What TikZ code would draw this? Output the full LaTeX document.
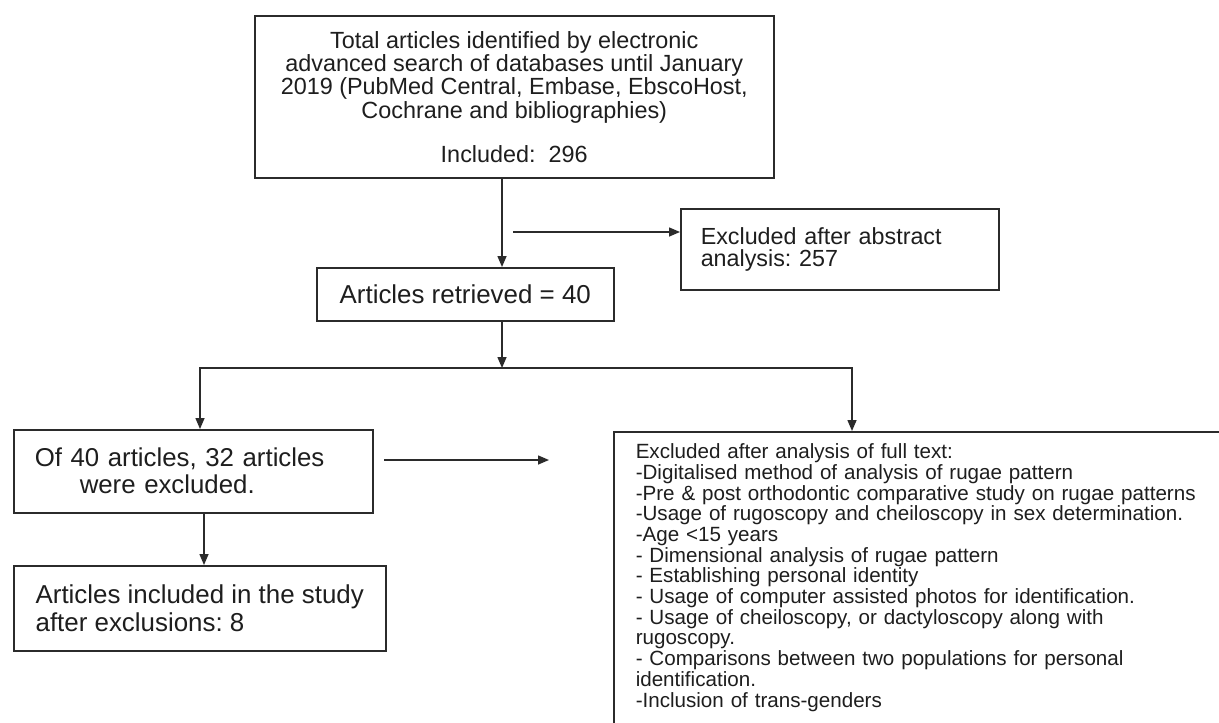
\documentclass[tikz,border=0pt]{standalone}
\usepackage{fontspec}
\setmainfont{Liberation Sans}
\usetikzlibrary{arrows.meta}
\definecolor{lc}{HTML}{2B2B2B}
\definecolor{tc}{HTML}{1E1E1E}
\frenchspacing
\begin{document}
\begin{tikzpicture}[x=1pt,y=-1pt,
  box/.style={draw=lc, line width=1.5pt, text=tc, inner sep=0pt, anchor=north west},
  arr/.style={draw=lc, line width=1.5pt, -{Triangle[length=11pt,width=9pt]}},
  ln/.style={draw=lc, line width=1.5pt}]
\useasboundingbox (0,0) rectangle (1219,723);
\clip (0,0) rectangle (1219,723);
\fill[white] (0,0) rectangle (1219,723);

\node[box, minimum width=519pt, minimum height=162pt, align=center,
      font=\fontsize{23.4}{23.3}\selectfont] (top) at (254,15)
  {Total articles identified by electronic\\
   advanced search of databases until January\\
   2019 (PubMed Central, Embase, EbscoHost,\\
   Cochrane and bibliographies)\\[20.7pt]
   Included:\ \ 296};

\node[box, minimum width=297pt, minimum height=53pt,
      font=\fontsize{25.9}{28}\selectfont] (art) at (316,267)
  {Articles retrieved = 40};

\node[box, minimum width=318pt, minimum height=81pt, text width=278pt,
      inner xsep=20pt, align=left, font=\fontsize{23.3}{22}\selectfont] (exa) at (680,208)
  {Excluded after abstract\\ analysis: 257};

\node[box, minimum width=359pt, minimum height=83pt, text width=317pt,
      inner xsep=21pt, align=left, font=\fontsize{25.8}{27}\selectfont] (of) at (13,429)
  {Of 40 articles, 32 articles\\ \hspace*{45pt}were excluded.};

\node[box, minimum width=372pt, minimum height=85pt, align=left,
      font=\fontsize{25.9}{28}\selectfont] (inc) at (13,565)
  {Articles included in the study\\ after exclusions: 8};

\node[box, text width=640pt, inner xsep=22pt, inner ysep=12pt, text depth=330pt,
      align=left, font=\fontsize{20.6}{20.7}\selectfont] (exf) at (613,431)
  {Excluded after analysis of full text:\\
   -Digitalised method of analysis of rugae pattern\\
   -Pre \& post orthodontic comparative study on rugae patterns\\
   -Usage of rugoscopy and cheiloscopy in sex determination.\\
   -Age <15 years\\
   - Dimensional analysis of rugae pattern\\
   - Establishing personal identity\\
   - Usage of computer assisted photos for identification.\\
   - Usage of cheiloscopy, or dactyloscopy along with\\
   rugoscopy.\\
   - Comparisons between two populations for personal\\
   identification.\\
   -Inclusion of trans-genders};

\coordinate (c1) at (502,0);
\coordinate (c2) at (204,0);
\coordinate (a1) at (513,232);
\coordinate (jn) at (502,368);
\coordinate (hl) at (200,368);
\coordinate (hr) at (852,368);
\coordinate (a2s) at (384,460);
\coordinate (a2e) at (549,460);

\draw[arr] (top.south -| c1) -- (art.north -| c1);
\draw[arr] (a1) -- (a1 -| exa.west);
\draw[arr] (art.south -| c1) -- (jn);
\draw[arr, line cap=rect] (hr) -- (hl) -- (hl |- of.north);
\draw[arr] (hr) -- (hr |- exf.north);
\draw[arr] (a2s) -- (a2e);
\draw[arr] (of.south -| c2) -- (inc.north -| c2);
\end{tikzpicture}
\end{document}
